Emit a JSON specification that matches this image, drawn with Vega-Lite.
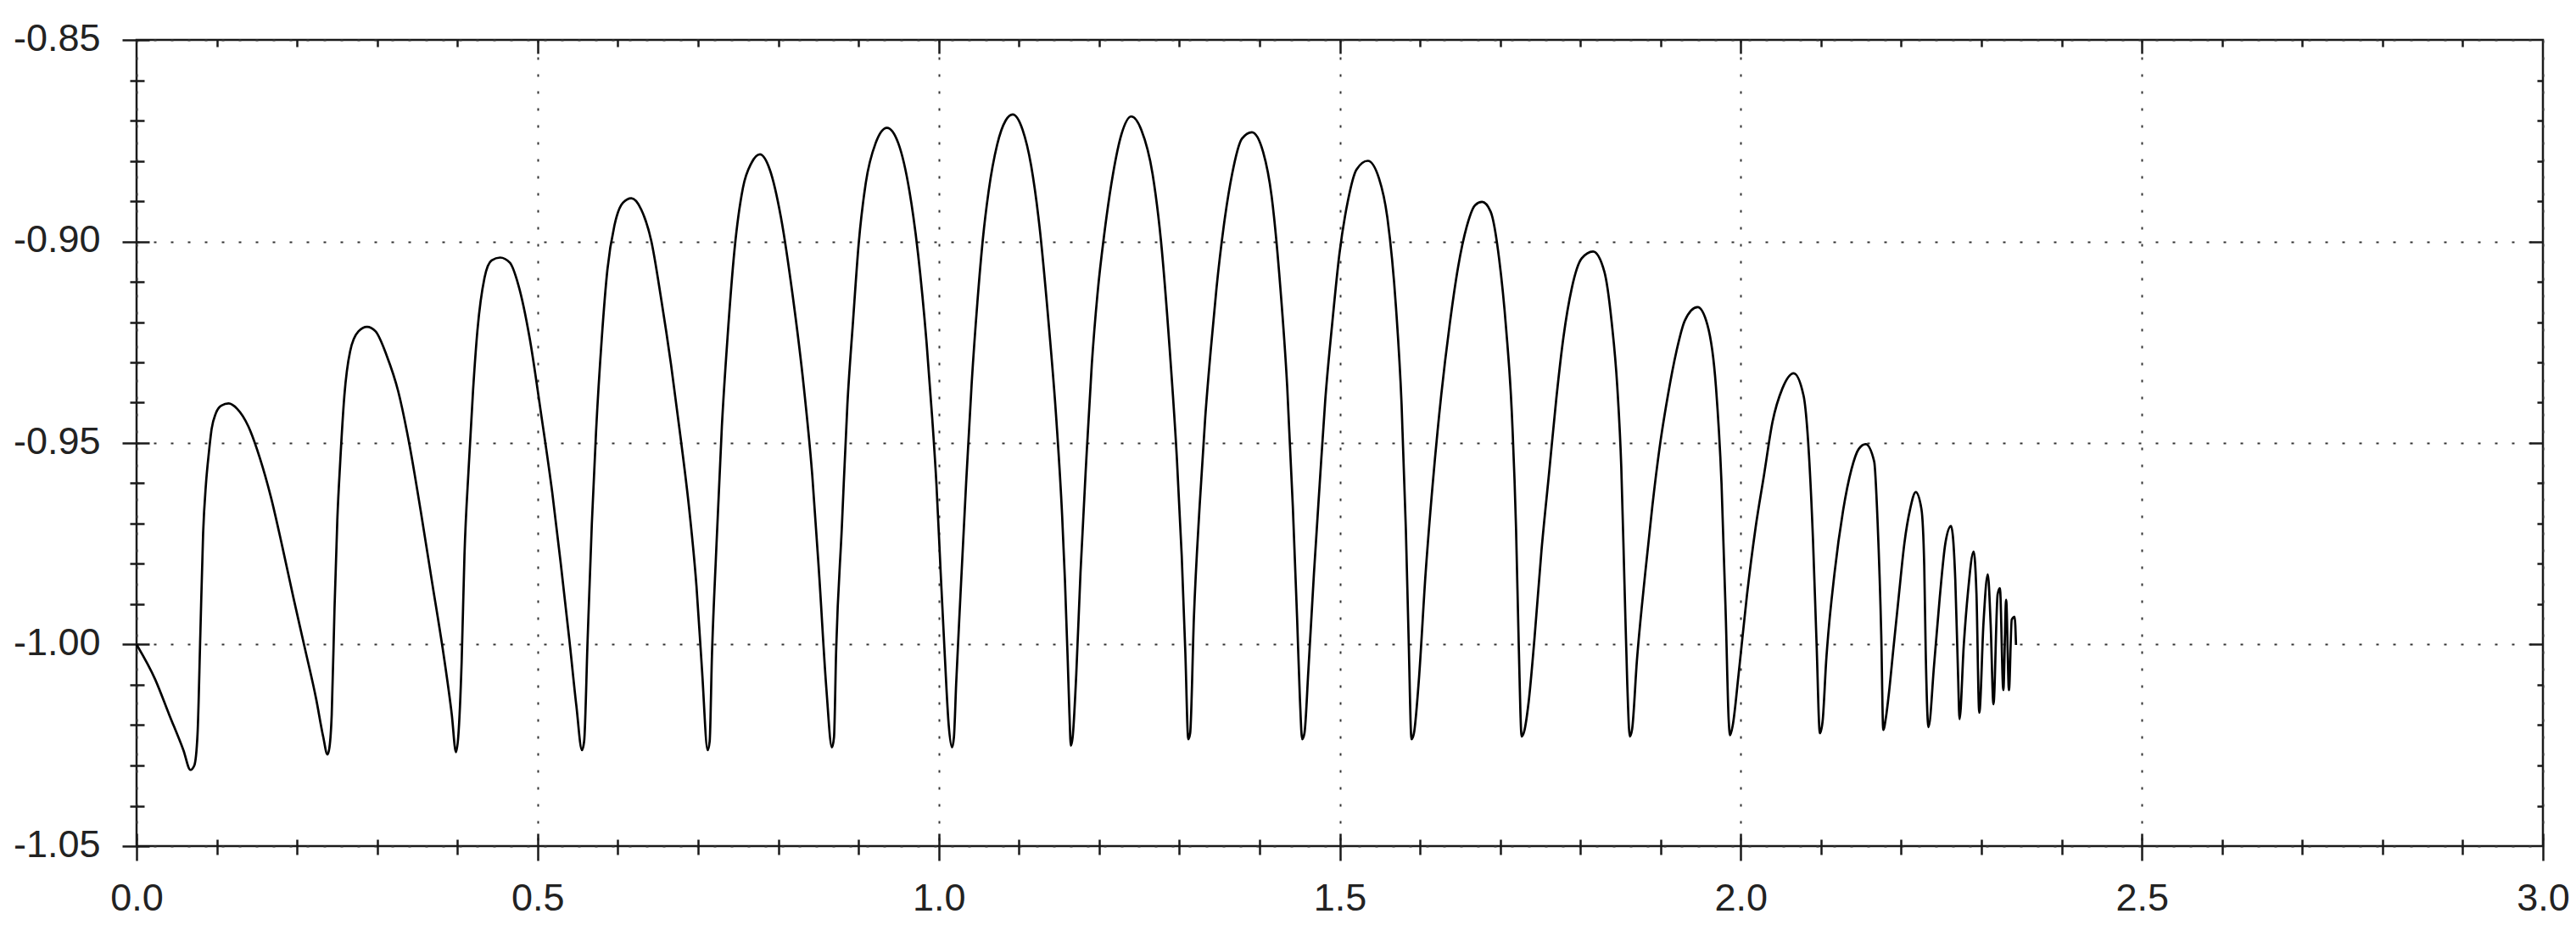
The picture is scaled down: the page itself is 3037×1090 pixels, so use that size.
{
  "$schema": "https://vega.github.io/schema/vega-lite/v6.json",
  "width": 2837,
  "height": 950,
  "autosize": "none",
  "padding": {"left": 161, "top": 47, "right": 39, "bottom": 93},
  "background": "white",
  "config": {
    "view": {"stroke": "#1a1a1a", "strokeWidth": 2.5},
    "locale": {"number": {"decimal": ".", "thousands": ",", "grouping": [3], "currency": ["$", ""], "minus": "-"}},
    "axis": {
      "title": null,
      "labelFont": "Liberation Sans",
      "labelFontSize": 45,
      "labelColor": "#222222",
      "tickColor": "#1a1a1a",
      "tickWidth": 2.5,
      "domain": false,
      "grid": false,
      "labels": false,
      "labelFlush": false,
      "labelOverlap": false,
      "labelBound": false
    }
  },
  "data": {
    "values": [
      {"x": 0.0, "y": -1.0},
      {"x": 0.0231, "y": -1.0086},
      {"x": 0.0407, "y": -1.0174},
      {"x": 0.0584, "y": -1.0262},
      {"x": 0.0672, "y": -1.0311},
      {"x": 0.072, "y": -1.03},
      {"x": 0.076, "y": -1.0223},
      {"x": 0.0795, "y": -0.9976},
      {"x": 0.083, "y": -0.9723},
      {"x": 0.0865, "y": -0.9602},
      {"x": 0.0901, "y": -0.9525},
      {"x": 0.0936, "y": -0.9465},
      {"x": 0.0989, "y": -0.9426},
      {"x": 0.1059, "y": -0.9407},
      {"x": 0.1147, "y": -0.9402},
      {"x": 0.1253, "y": -0.9415},
      {"x": 0.1394, "y": -0.9459},
      {"x": 0.1535, "y": -0.9536},
      {"x": 0.1676, "y": -0.9635},
      {"x": 0.1816, "y": -0.9756},
      {"x": 0.1957, "y": -0.9885},
      {"x": 0.2098, "y": -1.0009},
      {"x": 0.2239, "y": -1.0135},
      {"x": 0.2327, "y": -1.0229},
      {"x": 0.238, "y": -1.0273},
      {"x": 0.2405, "y": -1.0255},
      {"x": 0.2433, "y": -1.0174},
      {"x": 0.2468, "y": -0.991},
      {"x": 0.2503, "y": -0.969},
      {"x": 0.2539, "y": -0.9547},
      {"x": 0.2591, "y": -0.9382},
      {"x": 0.2662, "y": -0.9273},
      {"x": 0.2767, "y": -0.9223},
      {"x": 0.2873, "y": -0.9212},
      {"x": 0.2979, "y": -0.9223},
      {"x": 0.312, "y": -0.9284},
      {"x": 0.3261, "y": -0.9371},
      {"x": 0.3401, "y": -0.9503},
      {"x": 0.3542, "y": -0.9668},
      {"x": 0.3683, "y": -0.9844},
      {"x": 0.3824, "y": -1.002},
      {"x": 0.393, "y": -1.0174},
      {"x": 0.3982, "y": -1.0267},
      {"x": 0.401, "y": -1.023},
      {"x": 0.4053, "y": -1.0042},
      {"x": 0.4088, "y": -0.9778},
      {"x": 0.4141, "y": -0.956},
      {"x": 0.4195, "y": -0.937},
      {"x": 0.425, "y": -0.922},
      {"x": 0.4338, "y": -0.909},
      {"x": 0.4426, "y": -0.9047},
      {"x": 0.4532, "y": -0.904},
      {"x": 0.4655, "y": -0.9053},
      {"x": 0.476, "y": -0.9108},
      {"x": 0.4901, "y": -0.924},
      {"x": 0.5042, "y": -0.9426},
      {"x": 0.5183, "y": -0.9624},
      {"x": 0.5289, "y": -0.98},
      {"x": 0.5395, "y": -0.9987},
      {"x": 0.5483, "y": -1.0152},
      {"x": 0.5553, "y": -1.0262},
      {"x": 0.558, "y": -1.024},
      {"x": 0.5623, "y": -0.999},
      {"x": 0.5676, "y": -0.97},
      {"x": 0.5729, "y": -0.947},
      {"x": 0.58, "y": -0.924},
      {"x": 0.587, "y": -0.907},
      {"x": 0.5958, "y": -0.896},
      {"x": 0.6064, "y": -0.8904},
      {"x": 0.6169, "y": -0.8893},
      {"x": 0.6292, "y": -0.8921},
      {"x": 0.6416, "y": -0.8998},
      {"x": 0.6539, "y": -0.9141},
      {"x": 0.6663, "y": -0.9305},
      {"x": 0.6786, "y": -0.9492},
      {"x": 0.6892, "y": -0.9668},
      {"x": 0.698, "y": -0.9854},
      {"x": 0.705, "y": -1.0065},
      {"x": 0.712, "y": -1.0262},
      {"x": 0.7145, "y": -1.024},
      {"x": 0.7173, "y": -1.003},
      {"x": 0.7226, "y": -0.977},
      {"x": 0.7297, "y": -0.9459},
      {"x": 0.7367, "y": -0.924},
      {"x": 0.7455, "y": -0.902},
      {"x": 0.7561, "y": -0.8866},
      {"x": 0.7667, "y": -0.8805},
      {"x": 0.7772, "y": -0.8784},
      {"x": 0.7895, "y": -0.8822},
      {"x": 0.8036, "y": -0.8943},
      {"x": 0.8177, "y": -0.913},
      {"x": 0.8318, "y": -0.936},
      {"x": 0.8424, "y": -0.958},
      {"x": 0.8512, "y": -0.9833},
      {"x": 0.86, "y": -1.011},
      {"x": 0.8669, "y": -1.0255},
      {"x": 0.8695, "y": -1.023},
      {"x": 0.8721, "y": -1.002},
      {"x": 0.8792, "y": -0.9712},
      {"x": 0.8862, "y": -0.9404},
      {"x": 0.8933, "y": -0.9196},
      {"x": 0.9003, "y": -0.9005},
      {"x": 0.9091, "y": -0.8855},
      {"x": 0.9214, "y": -0.8756},
      {"x": 0.9355, "y": -0.8718},
      {"x": 0.9496, "y": -0.8756},
      {"x": 0.9637, "y": -0.8877},
      {"x": 0.9743, "y": -0.9031},
      {"x": 0.9849, "y": -0.9251},
      {"x": 0.9919, "y": -0.9437},
      {"x": 0.9972, "y": -0.9602},
      {"x": 1.0025, "y": -0.9822},
      {"x": 1.0077, "y": -1.003},
      {"x": 1.0125, "y": -1.02},
      {"x": 1.0166, "y": -1.0255},
      {"x": 1.019, "y": -1.023},
      {"x": 1.0218, "y": -1.0097},
      {"x": 1.0271, "y": -0.988},
      {"x": 1.0342, "y": -0.96},
      {"x": 1.0412, "y": -0.935},
      {"x": 1.0483, "y": -0.915},
      {"x": 1.0553, "y": -0.899},
      {"x": 1.0623, "y": -0.8875},
      {"x": 1.0729, "y": -0.876},
      {"x": 1.0835, "y": -0.87},
      {"x": 1.0923, "y": -0.8685},
      {"x": 1.1046, "y": -0.8723},
      {"x": 1.1152, "y": -0.8811},
      {"x": 1.1258, "y": -0.8965},
      {"x": 1.1363, "y": -0.9185},
      {"x": 1.1469, "y": -0.9448},
      {"x": 1.1539, "y": -0.968},
      {"x": 1.1574, "y": -0.984},
      {"x": 1.1609, "y": -1.004},
      {"x": 1.163, "y": -1.017},
      {"x": 1.1648, "y": -1.0251},
      {"x": 1.167, "y": -1.023},
      {"x": 1.1715, "y": -1.0075},
      {"x": 1.1768, "y": -0.9822},
      {"x": 1.1839, "y": -0.9547},
      {"x": 1.1909, "y": -0.9305},
      {"x": 1.198, "y": -0.913},
      {"x": 1.2068, "y": -0.8976},
      {"x": 1.2173, "y": -0.8833},
      {"x": 1.2279, "y": -0.8734},
      {"x": 1.2402, "y": -0.869},
      {"x": 1.2526, "y": -0.8723},
      {"x": 1.2667, "y": -0.8833},
      {"x": 1.2772, "y": -0.9},
      {"x": 1.2878, "y": -0.9262},
      {"x": 1.297, "y": -0.954},
      {"x": 1.303, "y": -0.978},
      {"x": 1.3075, "y": -1.002},
      {"x": 1.3112, "y": -1.0235},
      {"x": 1.3135, "y": -1.022},
      {"x": 1.3182, "y": -0.9932},
      {"x": 1.3253, "y": -0.9657},
      {"x": 1.3323, "y": -0.9437},
      {"x": 1.3394, "y": -0.9265},
      {"x": 1.3464, "y": -0.9115},
      {"x": 1.3552, "y": -0.8965},
      {"x": 1.3658, "y": -0.8833},
      {"x": 1.3781, "y": -0.8745},
      {"x": 1.3905, "y": -0.8729},
      {"x": 1.4045, "y": -0.8778},
      {"x": 1.4151, "y": -0.8888},
      {"x": 1.4257, "y": -0.9108},
      {"x": 1.4345, "y": -0.936},
      {"x": 1.4415, "y": -0.9657},
      {"x": 1.4468, "y": -0.9932},
      {"x": 1.4503, "y": -1.0132},
      {"x": 1.4532, "y": -1.0235},
      {"x": 1.456, "y": -1.022},
      {"x": 1.4609, "y": -1.0064},
      {"x": 1.4679, "y": -0.9822},
      {"x": 1.475, "y": -0.9602},
      {"x": 1.482, "y": -0.9392},
      {"x": 1.4908, "y": -0.92},
      {"x": 1.4996, "y": -0.9031},
      {"x": 1.5102, "y": -0.8899},
      {"x": 1.5208, "y": -0.8822},
      {"x": 1.5349, "y": -0.88},
      {"x": 1.549, "y": -0.8844},
      {"x": 1.5595, "y": -0.8943},
      {"x": 1.5701, "y": -0.9163},
      {"x": 1.5771, "y": -0.9404},
      {"x": 1.5824, "y": -0.9712},
      {"x": 1.5859, "y": -0.9987},
      {"x": 1.5895, "y": -1.0235},
      {"x": 1.5925, "y": -1.022},
      {"x": 1.5983, "y": -1.0097},
      {"x": 1.6071, "y": -0.9822},
      {"x": 1.6159, "y": -0.9602},
      {"x": 1.6265, "y": -0.9382},
      {"x": 1.637, "y": -0.9207},
      {"x": 1.6476, "y": -0.9063},
      {"x": 1.6582, "y": -0.8964},
      {"x": 1.6688, "y": -0.891},
      {"x": 1.6775, "y": -0.8902},
      {"x": 1.6881, "y": -0.8926},
      {"x": 1.6987, "y": -0.9043},
      {"x": 1.7075, "y": -0.9218},
      {"x": 1.7145, "y": -0.9424},
      {"x": 1.7198, "y": -0.9712},
      {"x": 1.7233, "y": -1.0012},
      {"x": 1.7268, "y": -1.0228},
      {"x": 1.73, "y": -1.0215},
      {"x": 1.7356, "y": -1.0141},
      {"x": 1.7427, "y": -0.9987},
      {"x": 1.7515, "y": -0.9767},
      {"x": 1.7612, "y": -0.957},
      {"x": 1.77, "y": -0.939},
      {"x": 1.7788, "y": -0.9239},
      {"x": 1.7894, "y": -0.9115},
      {"x": 1.8017, "y": -0.9042},
      {"x": 1.8158, "y": -0.9025},
      {"x": 1.8299, "y": -0.9075},
      {"x": 1.839, "y": -0.92},
      {"x": 1.846, "y": -0.936},
      {"x": 1.851, "y": -0.956},
      {"x": 1.855, "y": -0.985},
      {"x": 1.8585, "y": -1.01},
      {"x": 1.8616, "y": -1.0228},
      {"x": 1.8645, "y": -1.021},
      {"x": 1.8704, "y": -1.0042},
      {"x": 1.8809, "y": -0.9822},
      {"x": 1.8897, "y": -0.9657},
      {"x": 1.8986, "y": -0.9514},
      {"x": 1.9091, "y": -0.9382},
      {"x": 1.9197, "y": -0.9273},
      {"x": 1.9303, "y": -0.9196},
      {"x": 1.9461, "y": -0.9163},
      {"x": 1.9584, "y": -0.9207},
      {"x": 1.969, "y": -0.936},
      {"x": 1.976, "y": -0.9602},
      {"x": 1.9813, "y": -0.9932},
      {"x": 1.9849, "y": -1.0187},
      {"x": 1.9866, "y": -1.0225},
      {"x": 1.99, "y": -1.02},
      {"x": 1.9972, "y": -1.0075},
      {"x": 2.0077, "y": -0.9877},
      {"x": 2.0183, "y": -0.9712},
      {"x": 2.0289, "y": -0.958},
      {"x": 2.0395, "y": -0.9448},
      {"x": 2.0518, "y": -0.9365},
      {"x": 2.0659, "y": -0.9327},
      {"x": 2.0782, "y": -0.9382},
      {"x": 2.085, "y": -0.953},
      {"x": 2.09, "y": -0.974},
      {"x": 2.0945, "y": -1.0},
      {"x": 2.0986, "y": -1.022},
      {"x": 2.102, "y": -1.019},
      {"x": 2.1064, "y": -1.0042},
      {"x": 2.1169, "y": -0.9822},
      {"x": 2.1275, "y": -0.9668},
      {"x": 2.138, "y": -0.9565},
      {"x": 2.147, "y": -0.9515},
      {"x": 2.1557, "y": -0.9503},
      {"x": 2.1663, "y": -0.9546},
      {"x": 2.1706, "y": -0.9699},
      {"x": 2.1751, "y": -0.9976},
      {"x": 2.1776, "y": -1.0212},
      {"x": 2.181, "y": -1.018},
      {"x": 2.1847, "y": -1.012},
      {"x": 2.19, "y": -1.0015},
      {"x": 2.197, "y": -0.9879},
      {"x": 2.204, "y": -0.9748},
      {"x": 2.2111, "y": -0.9664},
      {"x": 2.2181, "y": -0.9622},
      {"x": 2.2252, "y": -0.9664},
      {"x": 2.2287, "y": -0.9805},
      {"x": 2.2305, "y": -1.0015},
      {"x": 2.234, "y": -1.0205},
      {"x": 2.241, "y": -1.005},
      {"x": 2.2481, "y": -0.9882},
      {"x": 2.2551, "y": -0.9748},
      {"x": 2.2621, "y": -0.9706},
      {"x": 2.2674, "y": -0.9839},
      {"x": 2.2709, "y": -1.0078},
      {"x": 2.2727, "y": -1.0185},
      {"x": 2.278, "y": -1.0001},
      {"x": 2.2833, "y": -0.9868},
      {"x": 2.2903, "y": -0.9769},
      {"x": 2.2938, "y": -0.9874},
      {"x": 2.2973, "y": -1.0169},
      {"x": 2.3026, "y": -0.9945},
      {"x": 2.3079, "y": -0.9826},
      {"x": 2.3115, "y": -0.995},
      {"x": 2.315, "y": -1.0148},
      {"x": 2.3202, "y": -0.9875},
      {"x": 2.323, "y": -0.986},
      {"x": 2.3273, "y": -1.0113},
      {"x": 2.3308, "y": -0.9889},
      {"x": 2.3343, "y": -1.0113},
      {"x": 2.3378, "y": -0.9938},
      {"x": 2.3414, "y": -0.9931},
      {"x": 2.3431, "y": -1.0001}
    ]
  },
  "resolve": {"axis": {"x": "independent", "y": "independent"}},
  "layer": [
    {
      "mark": {"type": "line", "opacity": 0},
      "encoding": {
        "x": {"field": "x", "type": "quantitative", "scale": {"domain": [0, 3], "nice": false, "zero": false},
          "axis": {"orient": "bottom", "values": [0, 0.5, 1, 1.5, 2, 2.5, 3], "grid": true, "ticks": false, "gridDash": [3, 17], "gridColor": "#333333", "gridWidth": 2, "gridOpacity": 1}},
        "y": {"field": "y", "type": "quantitative", "scale": {"domain": [-1.05, -0.85], "nice": false, "zero": false},
          "axis": {"orient": "left", "values": [-1.05, -1, -0.95, -0.9, -0.85], "grid": true, "ticks": false, "gridDash": [3, 17], "gridColor": "#333333", "gridWidth": 2, "gridOpacity": 1}}
      }
    },
    {
      "mark": {"type": "line", "opacity": 0},
      "encoding": {
        "x": {"field": "x", "type": "quantitative",
          "axis": {"orient": "bottom", "offset": -8, "tickSize": 18, "values": [0.1, 0.2, 0.3, 0.4, 0.6, 0.7, 0.8, 0.9, 1.1, 1.2, 1.3, 1.4, 1.6, 1.7, 1.8, 1.9, 2.1, 2.2, 2.3, 2.4, 2.6, 2.7, 2.8, 2.9]}},
        "y": {"field": "y", "type": "quantitative",
          "axis": {"orient": "left", "offset": -9, "tickSize": 17, "values": [-1.04, -1.03, -1.02, -1.01, -0.99, -0.98, -0.97, -0.96, -0.94, -0.93, -0.92, -0.91, -0.89, -0.88, -0.87, -0.86]}}
      }
    },
    {
      "mark": {"type": "line", "opacity": 0},
      "encoding": {
        "x": {"field": "x", "type": "quantitative",
          "axis": {"orient": "top", "offset": -8, "tickSize": 8, "values": [0.1, 0.2, 0.3, 0.4, 0.6, 0.7, 0.8, 0.9, 1.1, 1.2, 1.3, 1.4, 1.6, 1.7, 1.8, 1.9, 2.1, 2.2, 2.3, 2.4, 2.6, 2.7, 2.8, 2.9]}},
        "y": {"field": "y", "type": "quantitative",
          "axis": {"orient": "right", "offset": -7, "tickSize": 7, "values": [-1.04, -1.03, -1.02, -1.01, -0.99, -0.98, -0.97, -0.96, -0.94, -0.93, -0.92, -0.91, -0.89, -0.88, -0.87, -0.86]}}
      }
    },
    {
      "mark": {"type": "line", "opacity": 0},
      "encoding": {
        "x": {"field": "x", "type": "quantitative",
          "axis": {"orient": "top", "offset": -16, "tickSize": 16, "values": [0.5, 1, 1.5, 2, 2.5]}},
        "y": {"field": "y", "type": "quantitative",
          "axis": {"orient": "right", "offset": -16, "tickSize": 16, "values": [-1, -0.95, -0.9]}}
      }
    },
    {
      "mark": {"type": "line", "color": "#000000", "strokeWidth": 2.7, "interpolate": "monotone", "strokeJoin": "round"},
      "encoding": {
        "x": {"field": "x", "type": "quantitative",
          "axis": {"orient": "bottom", "offset": -15, "tickSize": 32, "labels": true, "labelPadding": 22, "format": ".1f", "values": [0, 0.5, 1, 1.5, 2, 2.5, 3]}},
        "y": {"field": "y", "type": "quantitative",
          "axis": {"orient": "left", "offset": -15, "tickSize": 32, "labels": true, "labelPadding": 26, "labelOffset": -2, "format": ".2f", "values": [-1.05, -1, -0.95, -0.9, -0.85]}}
      }
    }
  ]
}
